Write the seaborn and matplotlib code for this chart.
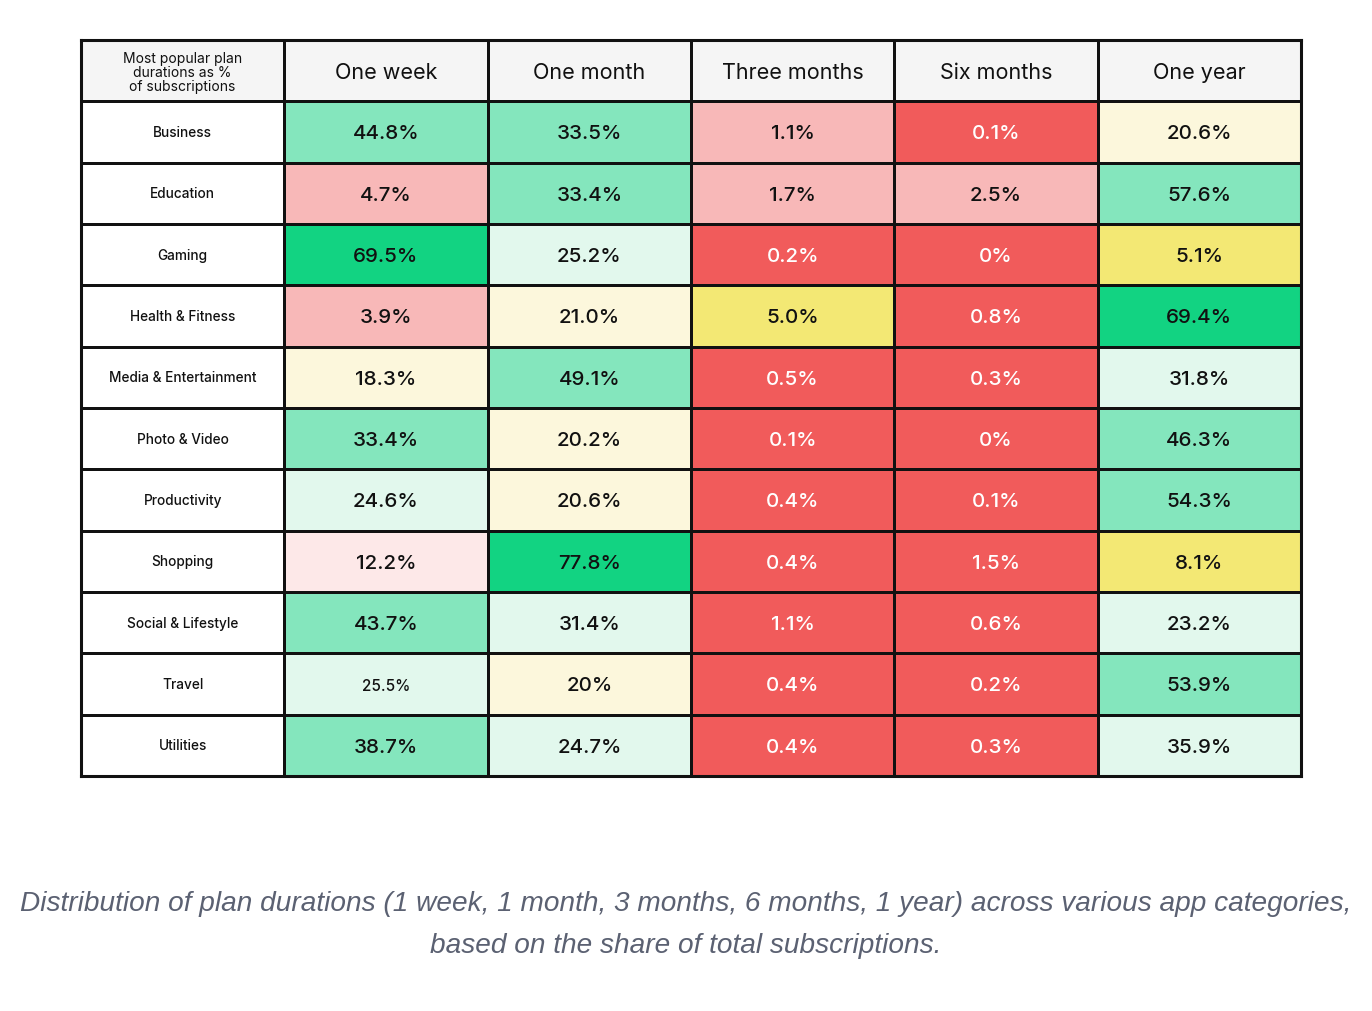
import numpy as np
import pandas as pd
import matplotlib
matplotlib.use("Agg")
import matplotlib.pyplot as plt
import seaborn as sns
from matplotlib.colors import ListedColormap

categories = ["Business", "Education", "Gaming", "Health & Fitness", "Media & Entertainment",
              "Photo & Video", "Productivity", "Shopping", "Social & Lifestyle", "Travel", "Utilities"]
durations = ["One week", "One month", "Three months", "Six months", "One year"]
corner_label = "Most popular plan\ndurations as %\nof subscriptions"

one_week = ["44.8%", "4.7%", "69.5%", "3.9%", "18.3%", "33.4%", "24.6%", "12.2%", "43.7%", "25.5%", "38.7%"]
one_month = ["33.5%", "33.4%", "25.2%", "21.0%", "49.1%", "20.2%", "20.6%", "77.8%", "31.4%", "20%", "24.7%"]
three_months = ["1.1%", "1.7%", "0.2%", "5.0%", "0.5%", "0.1%", "0.4%", "0.4%", "1.1%", "0.4%", "0.4%"]
six_months = ["0.1%", "2.5%", "0%", "0.8%", "0.3%", "0%", "0.1%", "1.5%", "0.6%", "0.2%", "0.3%"]
one_year = ["20.6%", "57.6%", "5.1%", "69.4%", "31.8%", "46.3%", "54.3%", "8.1%", "23.2%", "53.9%", "35.9%"]

# colour tier of every cell, as shown in the picture
# dg dark green, mg mid green, lg light green, ly light yellow, y yellow, lp light pink, p pink, r red
tier_week = ["mg", "p", "dg", "p", "ly", "mg", "lg", "lp", "mg", "lg", "mg"]
tier_month = ["mg", "mg", "lg", "ly", "mg", "ly", "ly", "dg", "lg", "ly", "lg"]
tier_three = ["p", "p", "r", "y", "r", "r", "r", "r", "r", "r", "r"]
tier_six = ["r", "p", "r", "r", "r", "r", "r", "r", "r", "r", "r"]
tier_year = ["ly", "mg", "y", "dg", "lg", "mg", "mg", "y", "lg", "mg", "lg"]

tier_colors = {
    "head": "#f5f5f5", "label": "#ffffff",
    "dg": "#12d382", "mg": "#84e6bd", "lg": "#e2f8ed", "ly": "#fcf7dc",
    "y": "#f3e874", "lp": "#fde8e8", "p": "#f8b8b8", "r": "#f15b5b",
}
tier_names = list(tier_colors.keys())

values = pd.DataFrame({d: v for d, v in zip(durations, [one_week, one_month, three_months, six_months, one_year])},
                      index=categories)
tiers = pd.DataFrame({d: t for d, t in zip(durations, [tier_week, tier_month, tier_three, tier_six, tier_year])},
                     index=categories)

# full grid: header row + label column
grid = np.empty((len(categories) + 1, len(durations) + 1), dtype=object)
grid[0, :] = "head"
grid[1:, 0] = "label"
grid[1:, 1:] = tiers.values
codes = np.vectorize(tier_names.index)(grid)

fig = plt.figure(figsize=(13.72, 10.12), dpi=100)
ax = fig.add_axes([81 / 1372, 1 - 777 / 1012, 1220 / 1372, 736 / 1012])

cmap = ListedColormap([tier_colors[t] for t in tier_names])
sns.heatmap(codes, ax=ax, cmap=cmap, vmin=-0.5, vmax=len(tier_names) - 0.5, cbar=False,
            linewidths=2.1, linecolor="#111111", xticklabels=False, yticklabels=False)
ax.set_xlabel("")
ax.set_ylabel("")
for s in ax.spines.values():
    s.set_visible(True)
    s.set_linewidth(2.2)
    s.set_color("#111111")

font = ["Inter", "DejaVu Sans"]

# header row
ax.text(0.5, 0.52, corner_label, ha="center", va="center", fontsize=10, family=font,
        linespacing=1.0, color="#111111")
for j, d in enumerate(durations):
    ax.text(j + 1.5, 0.52, d, ha="center", va="center", fontsize=15.5, family=font, color="#111111")

# row labels and cell values
for i, cat in enumerate(categories):
    ax.text(0.5, i + 1.5, cat, ha="center", va="center", fontsize=9.8, family=font,
            weight="medium", color="#111111")
    for j, d in enumerate(durations):
        txt = values.loc[cat, d]
        col = "white" if tiers.loc[cat, d] == "r" else "#111111"
        size = 11 if (cat == "Travel" and d == "One week") else 14.8
        ax.text(j + 1.5, i + 1.52, txt, ha="center", va="center", fontsize=size,
                family=font, weight="medium", color=col)

caption = ("Distribution of plan durations (1 week, 1 month, 3 months, 6 months, 1 year) across various app categories,\n"
           "based on the share of total subscriptions.")
fig.text(0.5, 1 - 925 / 1012, caption, ha="center", va="center", fontsize=20.2, style="italic",
         family=["Liberation Sans", "DejaVu Sans"], color="#5b6172", linespacing=1.8)

fig.savefig("out.png", dpi=100, facecolor="white")
